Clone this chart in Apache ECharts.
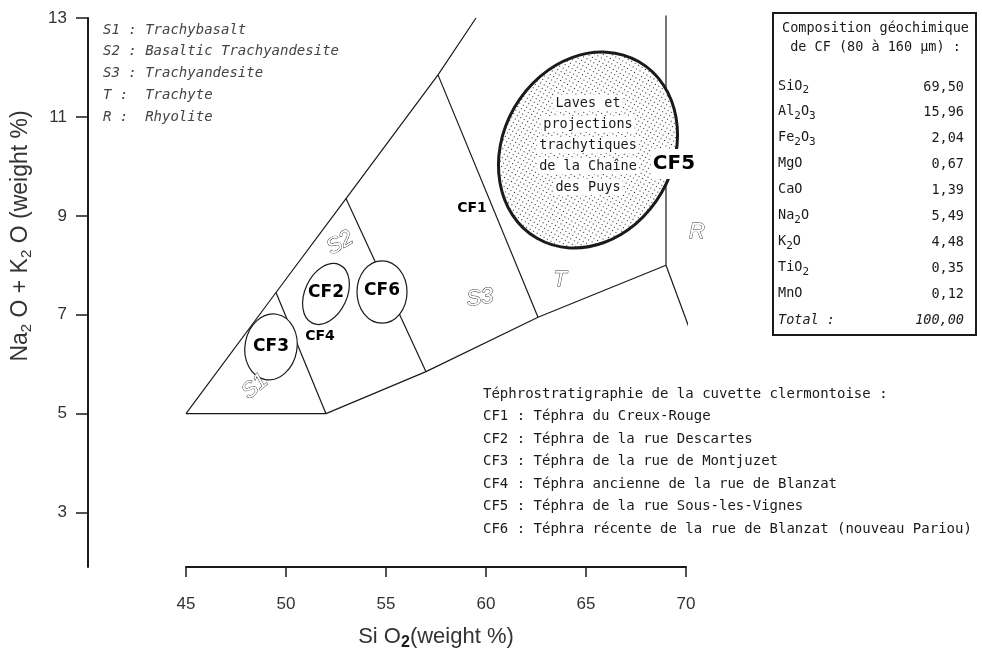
<!DOCTYPE html>
<html>
<head>
<meta charset="utf-8">
<script src="https://cdn.jsdelivr.net/npm/echarts@6/dist/echarts.min.js"></script>
<style>
  html, body { margin: 0; padding: 0; background: #fff; }
  #chart { width: 982px; height: 659px; }
</style>
</head>
<body>
<div id="chart"></div>
<script>
const xTicks = [45, 50, 55, 60, 65, 70];
const yTicks = [3, 5, 7, 9, 11, 13];

// field boundaries, points are [SiO2, Na2O+K2O]
const basaltTop = [[45, 5], [52, 5]];
const upperEdge = [[45, 5], [49.5, 7.45], [53, 9.35], [57.6, 11.85], [59.5, 13.0]];
const lowerEdge = [[52, 5], [57, 5.85], [62.6, 6.95], [69, 8]];
const s1s2Line = [[52, 5], [49.5, 7.45]];
const s2s3Line = [[57, 5.85], [53, 9.35]];
const s3tLine = [[62.6, 6.95], [57.6, 11.85]];
const trLine = [[69, 8], [69, 13.05]];
const rhyoliteLine = [[69, 8], [70.65, 6.2]];

// tephra fields (ellipses): centre, half width in SiO2, half height in alkalis, tilt
const fieldNames = ['CF3', 'CF2', 'CF6', 'CF5'];
const fieldSiO2 = [49.25, 52.0, 54.8, 65.1];
const fieldAlk = [6.35, 7.42, 7.46, 10.33];
const fieldRx = [1.3, 1.05, 1.25, 4.25];
const fieldRy = [0.67, 0.65, 0.63, 2.06];
const fieldTilt = [-10, -25, 0, -30];

const sampleNames = ['CF1', 'CF2', 'CF3', 'CF4', 'CF5', 'CF6'];
const sampleSiO2 = [59.3, 52.0, 49.25, 51.7, 69.4, 54.8];
const sampleAlk = [9.16, 7.44, 6.35, 6.56, 10.05, 7.48];

const rockCodes = ['S1', 'S2', 'S3', 'T', 'R'];
const rockNames = ['Trachybasalt', 'Basaltic Trachyandesite', 'Trachyandesite', 'Trachyte', 'Rhyolite'];
const rockSiO2 = [48.45, 52.7, 59.7, 63.7, 70.55];
const rockAlk = [5.55, 8.45, 7.34, 7.7, 8.68];

const caption = ['Laves et', 'projections', 'trachytiques', 'de la Chaîne', 'des Puys'];
const captionAt = [65.1, 10.43];

const oxides = ['SiO2', 'Al2O3', 'Fe2O3', 'MgO', 'CaO', 'Na2O', 'K2O', 'TiO2', 'MnO'];
const oxideValues = ['69,50', '15,96', '2,04', '0,67', '1,39', '5,49', '4,48', '0,35', '0,12'];
const totalValue = '100,00';

const tephraTitle = 'Téphrostratigraphie de la cuvette clermontoise :';
const tephraList = [
  'CF1 : Téphra du Creux-Rouge',
  'CF2 : Téphra de la rue Descartes',
  'CF3 : Téphra de la rue de Montjuzet',
  'CF4 : Téphra ancienne de la rue de Blanzat',
  'CF5 : Téphra de la rue Sous-les-Vignes',
  'CF6 : Téphra récente de la rue de Blanzat (nouveau Pariou)'
];

const MONO = '"DejaVu Sans Mono", monospace';
const SANS = '"Liberation Sans", Arial, sans-serif';
const INK = '#1a1a1a';

// label looks
const sampleSize = { CF1: 14, CF2: 17, CF3: 17, CF4: 14, CF5: 20, CF6: 17 };
const rockTurn = { S1: 40, S2: 30, S3: 8, T: 0, R: 0 };

// dotted fill for the Chaine des Puys field
const dot = document.createElement('canvas');
dot.width = 4;
dot.height = 4;
const g = dot.getContext('2d');
g.fillStyle = '#fff';
g.fillRect(0, 0, 4, 4);
g.fillStyle = '#222';
g.fillRect(1, 1, 1, 1);
const dotFill = { image: dot, repeat: 'repeat' };

function chem(str) {
  return str.replace(/(\D+)|(\d+)/g, (m, a, d) => a ? '{t|' + a + '}' : '{s|' + d + '}');
}

function boundary(points) {
  return {
    type: 'line',
    xAxisIndex: 0,
    yAxisIndex: 0,
    data: points,
    symbol: 'none',
    clip: false,
    silent: true,
    z: 2,
    lineStyle: { color: INK, width: 1.2 }
  };
}

const chart = echarts.init(document.getElementById('chart'));

const tableRich = {
  t: { fontFamily: MONO, fontSize: 13.5, fill: INK, verticalAlign: 'top' },
  s: { fontFamily: MONO, fontSize: 11, fill: INK, verticalAlign: 'top', padding: [6, 0, 0, 0] }
};
const rowY0 = 87, rowStep = 25.9;

const graphics = [];
// top-left key of the fields
rockCodes.forEach((c, i) => {
  graphics.push({
    type: 'text', x: 103, y: 30 + i * 21.8,
    style: {
      text: (c + ' :').padEnd(5, ' ') + rockNames[i],
      fontFamily: MONO, fontSize: 14, fontStyle: 'italic',
      fill: '#444', verticalAlign: 'middle'
    }
  });
});
// composition box
graphics.push({
  type: 'rect', shape: { x: 773, y: 13, width: 203, height: 322 },
  style: { fill: 'none', stroke: INK, lineWidth: 2 }
});
graphics.push({
  type: 'text', x: 782, y: 28,
  style: { text: 'Composition géochimique', fontFamily: MONO, fontSize: 13.5, fill: INK, verticalAlign: 'middle' }
});
graphics.push({
  type: 'text', x: 782, y: 47,
  style: { text: ' de CF (80 à 160 µm) :', fontFamily: MONO, fontSize: 13.5, fill: INK, verticalAlign: 'middle' }
});
oxides.forEach((ox, i) => {
  const y = rowY0 + i * rowStep;
  graphics.push({
    type: 'text', x: 778, y: y - 8,
    style: { text: chem(ox), rich: tableRich }
  });
  graphics.push({
    type: 'text', x: 964, y: y,
    style: { text: oxideValues[i], fontFamily: MONO, fontSize: 13.5, fill: INK, align: 'right', verticalAlign: 'middle' }
  });
});
const totalY = rowY0 + oxides.length * rowStep;
graphics.push({
  type: 'text', x: 778, y: totalY,
  style: { text: 'Total :', fontFamily: MONO, fontSize: 13.5, fontStyle: 'italic', fill: INK, verticalAlign: 'middle' }
});
graphics.push({
  type: 'text', x: 964, y: totalY,
  style: { text: totalValue, fontFamily: MONO, fontSize: 13.5, fontStyle: 'italic', fill: INK, align: 'right', verticalAlign: 'middle' }
});
// tephra key
[tephraTitle].concat(tephraList).forEach((line, i) => {
  graphics.push({
    type: 'text', x: 483, y: 394 + i * 22.5,
    style: { text: line, fontFamily: MONO, fontSize: 14, fill: INK, verticalAlign: 'middle' }
  });
});
// y axis title
graphics.push({
  type: 'text', x: 22, y: 236, rotation: Math.PI / 2,
  style: {
    text: '{t|Na}{s|2}{t| O + K}{s|2}{t| O (weight %)}',
    align: 'center', verticalAlign: 'middle',
    rich: {
      t: { fontFamily: SANS, fontSize: 23, fill: '#333', verticalAlign: 'top' },
      s: { fontFamily: SANS, fontSize: 15, fill: '#333', verticalAlign: 'top', padding: [10, 0, 0, 0] }
    }
  }
});

const option = {
  animation: false,
  backgroundColor: '#fff',
  graphic: graphics,
  grid: [
    { left: 186, right: 296, top: 18, bottom: 92, outerBoundsMode: 'none' },
    { left: 88, width: 10, top: 18, bottom: 92, outerBoundsMode: 'none' }
  ],
  xAxis: [
    {
      gridIndex: 0, type: 'value', min: 45, max: 70, interval: 5,
      axisLine: { onZero: false, lineStyle: { color: INK, width: 2 } },
      axisTick: { length: 10, customValues: xTicks, lineStyle: { color: INK, width: 1.5 } },
      axisLabel: { margin: 29, customValues: xTicks, color: '#333', fontFamily: SANS, fontSize: 17 },
      splitLine: { show: false },
      name: '{t|Si O}{b|2}{t|(weight %)}',
      nameLocation: 'middle',
      nameGap: 59,
      nameTextStyle: {
        rich: {
          t: { fontFamily: SANS, fontSize: 22, color: '#333', verticalAlign: 'top' },
          b: { fontFamily: SANS, fontSize: 16, fontWeight: 'bold', color: INK, verticalAlign: 'top', padding: [9, 0, 0, 0] }
        }
      }
    },
    { gridIndex: 1, type: 'value', show: false, min: 0, max: 1 }
  ],
  yAxis: [
    { gridIndex: 0, type: 'value', show: false, min: 1.9, max: 13 },
    {
      gridIndex: 1, type: 'value', min: 1.9, max: 13,
      axisLine: { show: true, onZero: false, lineStyle: { color: INK, width: 2 } },
      axisTick: { show: true, length: 12, customValues: yTicks, lineStyle: { color: INK, width: 1.5 } },
      axisLabel: { margin: 21, customValues: yTicks, color: '#333', fontFamily: SANS, fontSize: 17 },
      splitLine: { show: false }
    }
  ],
  series: [
    boundary(basaltTop),
    boundary(upperEdge),
    boundary(lowerEdge),
    boundary(s1s2Line),
    boundary(s2s3Line),
    boundary(s3tLine),
    boundary(trLine),
    boundary(rhyoliteLine),
    {
      type: 'custom',
      xAxisIndex: 0, yAxisIndex: 0,
      z: 3, silent: true,
      data: fieldNames.map((n, i) => [fieldSiO2[i], fieldAlk[i]]),
      renderItem: (params, api) => {
        const i = params.dataIndex;
        const c = api.coord([api.value(0), api.value(1)]);
        const s = api.size([fieldRx[i], fieldRy[i]]);
        const big = fieldNames[i] === 'CF5';
        return {
          type: 'ellipse',
          x: c[0], y: c[1],
          rotation: fieldTilt[i] * Math.PI / 180,
          shape: { cx: 0, cy: 0, rx: s[0], ry: s[1] },
          style: { fill: big ? dotFill : '#fff', stroke: INK, lineWidth: big ? 3 : 1.2 }
        };
      }
    },
    {
      type: 'custom',
      xAxisIndex: 0, yAxisIndex: 0,
      z: 4, silent: true,
      data: [captionAt],
      renderItem: (params, api) => {
        const c = api.coord([api.value(0), api.value(1)]);
        return {
          type: 'group',
          children: caption.map((line, j) => ({
            type: 'text',
            x: c[0], y: c[1] + (j - 2) * 21,
            style: {
              text: line, fontFamily: MONO, fontSize: 13.5, fill: INK,
              align: 'center', verticalAlign: 'middle',
              backgroundColor: '#fff', padding: [1, 2]
            }
          }))
        };
      }
    },
    {
      type: 'custom',
      xAxisIndex: 0, yAxisIndex: 0,
      z: 5, silent: true,
      data: sampleNames.map((n, i) => [sampleSiO2[i], sampleAlk[i]]),
      renderItem: (params, api) => {
        const name = sampleNames[params.dataIndex];
        const c = api.coord([api.value(0), api.value(1)]);
        return {
          type: 'text', x: c[0], y: c[1],
          style: {
            text: name, fontFamily: '"DejaVu Sans", sans-serif', fontWeight: 'bold',
            fontSize: sampleSize[name], fill: '#000',
            align: 'center', verticalAlign: 'middle',
            backgroundColor: name === 'CF5' ? '#fff' : null,
            padding: name === 'CF5' ? [5, 2] : 0
          }
        };
      }
    },
    {
      type: 'custom',
      xAxisIndex: 0, yAxisIndex: 0,
      z: 5, silent: true,
      data: rockCodes.map((n, i) => [rockSiO2[i], rockAlk[i]]),
      renderItem: (params, api) => {
        const code = rockCodes[params.dataIndex];
        const c = api.coord([api.value(0), api.value(1)]);
        return {
          type: 'text', x: c[0], y: c[1],
          rotation: rockTurn[code] * Math.PI / 180,
          style: {
            text: code, fontFamily: SANS, fontStyle: 'italic', fontSize: 22,
            fill: '#fff', stroke: '#333', lineWidth: 0.9,
            align: 'center', verticalAlign: 'middle'
          }
        };
      }
    }
  ]
};

chart.setOption(option);
</script>
</body>
</html>
